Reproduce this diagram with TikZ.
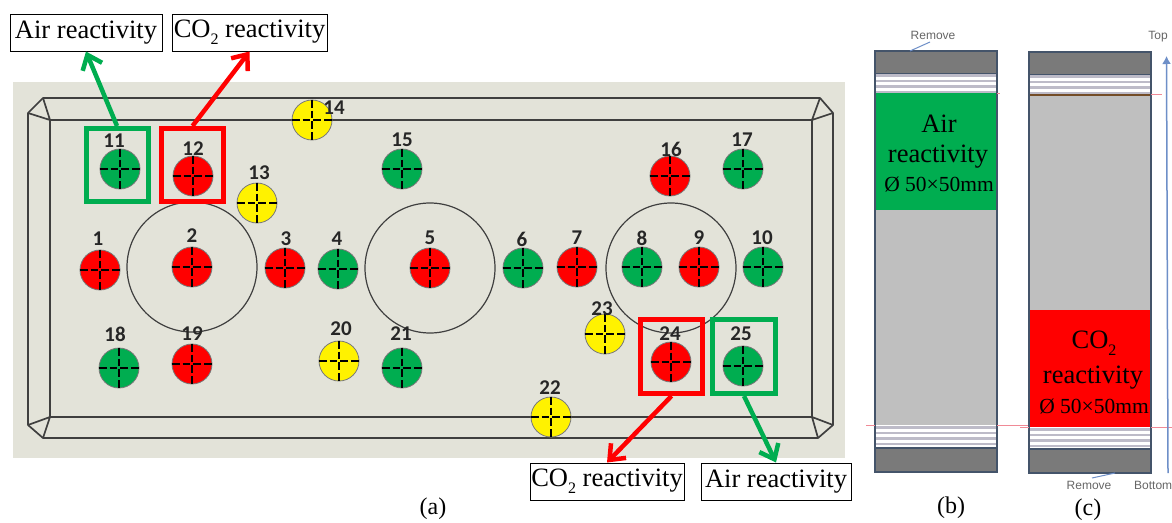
\documentclass[tikz,border=0pt]{standalone}
\usepackage{fontspec}
\setmainfont{Liberation Serif}
\newfontfamily\numfont{Carlito}
\newfontfamily\smallsans{Liberation Sans}
\usetikzlibrary{arrows.meta}
\definecolor{bgc}{HTML}{E3E3D9}
\definecolor{grn}{HTML}{00AD50}
\definecolor{linec}{HTML}{3F3F3F}
\definecolor{panelb}{HTML}{44546A}
\definecolor{darkc}{HTML}{7A7A7A}
\definecolor{grayc}{HTML}{BFBFBF}
\definecolor{stripec}{HTML}{BDBBC8}
\definecolor{bluec}{HTML}{6E8FC8}
\definecolor{pinkc}{HTML}{F08A96}
\definecolor{txtg}{HTML}{666666}
\newcommand{\subtwo}{\raisebox{-0.28em}{\fontsize{16}{16}\selectfont 2}}
\tikzset{
  hole/.style={circle,draw=linec!70,line width=.8pt,minimum size=40pt,inner sep=0pt},
  crossl/.style={black,line width=1.2pt,dash pattern=on 8pt off 3pt on 7.5pt off 3pt on 8pt off 3pt on 8pt},
  numl/.style={font=\numfont\bfseries\fontsize{21}{21}\selectfont,text=black!85,inner sep=0pt},
  tablel/.style={linec,line width=1.7pt,line join=round},
  bigc/.style={circle,draw=linec,line width=1.2pt,minimum size=130pt,inner sep=0pt},
  markbox/.style={draw,line width=5pt,fill=none,inner sep=0pt},
  lab/.style={draw=black,line width=1pt,fill=white,inner sep=0pt,font=\fontsize{26.5}{27}\selectfont,text=black},
  conn/.style={line width=4.5pt,-{Straight Barb[length=13pt,width=21pt,line width=4.5pt]}},
  captxt/.style={font=\fontsize{24}{24}\selectfont,inner sep=0pt},
  band/.style={draw=panelb,line width=1.4pt},
  ptext/.style={font=\fontsize{26.5}{27}\selectfont,inner sep=0pt,text=black},
  psmall/.style={font=\fontsize{21.5}{22}\selectfont,inner sep=0pt,text=black},
  tinyt/.style={font=\smallsans\fontsize{12}{12}\selectfont,text=txtg,inner sep=0pt},
}
\newcommand{\stripes}[2]{% x offset, top y
  \fill[white] (#1,#2) rectangle (#1+122,#2+19);
  \foreach \d in {1.5,7,12.5,18}{\draw[stripec,line width=2.4pt] (#1,#2+\d) -- (#1+122,#2+\d);}
}
\begin{document}
\begin{tikzpicture}[x=1pt,y=-1pt]
\useasboundingbox (0,0) rectangle (1172,522);
\fill[white] (0,0) rectangle (1172,522);
\fill[bgc] (13,82) rectangle (845,458);
% table
\draw[tablel] (43,98) -- (820,98) -- (833,113) -- (833,425) -- (818,438) -- (43,438) -- (28,425) -- (28,113) -- cycle;
\draw[tablel] (50,120) rectangle (812,417);
\draw[tablel] (43,98) -- (50,120) (28,113) -- (50,120);
\draw[tablel] (820,98) -- (812,120) (833,113) -- (812,120);
\draw[tablel] (818,438) -- (812,417) (833,425) -- (812,417);
\draw[tablel] (43,438) -- (50,417) (28,425) -- (50,417);
% large circles
\node[bigc] (c2) at (192,267) {};
\node[bigc] (c5) at (430,268) {};
\node[bigc] (c8) at (671,268) {};
% holes
\foreach \n/\x/\y/\c/\nx/\ny in {
 1/100/270/red/98/239, 2/192/267/red/192/236, 3/285/268/red/286/239, 4/338/269/grn/337/239,
 5/430/268/red/430/238, 6/523/268/grn/522/239, 7/577/267/red/577/238, 8/642/267/grn/642/238,
 9/699/267/red/699/238, 10/763/267/grn/762/238, 11/120/169/grn/114/141, 12/193/176/red/193/149,
 13/257/203/yellow/259/173, 14/312/120/yellow/334/108, 15/402/169/grn/402/140, 16/670/176/red/671/149,
 17/743/169/grn/742/140, 18/119/368/grn/115/334, 19/192/364/red/192/334, 20/339/361/yellow/341/329,
 21/402/368/grn/401/334, 22/551/417/yellow/550/388, 23/605/334/yellow/602/309, 24/671/362/red/670/334,
 25/743/366/grn/741/334}{
  \node[hole,fill=\c] (h\n) at (\x,\y) {};
  \draw[crossl] (h\n.west) -- (h\n.east);
  \draw[crossl] (h\n.north) -- (h\n.south);
  \node[numl] (n\n) at (\nx,\ny) {\n};
}
% marker boxes
\node[markbox,draw=grn,minimum width=62pt,minimum height=73pt] (mA) at (117,165) {};
\node[markbox,draw=red,minimum width=62pt,minimum height=73pt] (mB) at (192.5,165) {};
\node[markbox,draw=red,minimum width=62pt,minimum height=74pt] (mC) at (671.5,356.5) {};
\node[markbox,draw=grn,minimum width=63pt,minimum height=74pt] (mD) at (744,356.5) {};
% labels
\node[lab,minimum width=152pt,minimum height=37pt] (lA) at (86,32.5) {\raisebox{-.13em}{Air reactivity}};
\node[lab,minimum width=155pt,minimum height=37pt] (lB) at (249.5,32.5) {\raisebox{.15em}{CO\subtwo{} reactivity}};
\node[lab,minimum width=154pt,minimum height=37pt] (lC) at (607,481.5) {\raisebox{.15em}{CO\subtwo{} reactivity}};
\node[lab,minimum width=150pt,minimum height=37pt] (lD) at (776,481.5) {\raisebox{-.1em}{Air reactivity}};
% connectors
\draw[conn,grn] (mA.north) -- (lA.south);
\draw[conn,red] (mB.north) -- (lB.south);
\draw[conn,red] (mC.south) -- (lC.north);
\draw[conn,grn] (mD.south) -- (lD.north);
% panel b
\draw[band,fill=darkc] (875,51) rectangle (997,74);
\stripes{875}{74}
\fill[grayc] (875,210) rectangle (997,425);
\fill[grn] (875,93) rectangle (997,210);
\stripes{875}{426}
\draw[band] (875,74) -- (875,448) (997,74) -- (997,448);
\draw[band,fill=darkc] (875,448) rectangle (997,472);
\draw[pinkc,line width=1pt] (997,93.5) -- (1000,93.5);
\draw[pinkc,line width=1pt] (866,425.5) -- (875,425.5);
\draw[pinkc,line width=1pt] (997,425.5) -- (1029,425.5);
\node[tinyt] (remB) at (933,35) {Remove};
\draw[bluec,line width=1pt] (930,42) -- (910,51);
\node[ptext] (tb1) at (939,124) {Air};
\node[ptext] (tb2) at (938,157) {reactivity};
\node[psmall] (tb3) at (939,184) {Ø 50×50mm};
% panel c
\draw[band,fill=darkc] (1029,52) rectangle (1151,75);
\stripes{1029}{75}
\fill[grayc] (1029,96) rectangle (1151,310);
\draw[black!40!brown,line width=2.5pt] (1029,95) -- (1151,95);
\fill[red] (1030,310) rectangle (1151,427);
\stripes{1029}{428}
\draw[band] (1029,75) -- (1029,449) (1151,75) -- (1151,449);
\draw[band,fill=darkc] (1029,449) rectangle (1151,473);
\draw[pinkc,line width=1pt] (1151,94.5) -- (1162,94.5);
\draw[pinkc,line width=1pt] (1020,427) -- (1029,427);
\draw[pinkc,line width=1pt] (1151,427) -- (1172,427);
\node[ptext] (tc1) at (1094,343) {CO\subtwo};
\node[ptext] (tc2) at (1093,378) {reactivity};
\node[psmall] (tc3) at (1094,406) {Ø 50×50mm};
\node[tinyt] (remC) at (1089,485) {Remove};
\draw[bluec,line width=1pt] (1092,478) -- (1115,473);
\coordinate (axB) at (1168,473);
\coordinate (axT) at (1166.5,56);
\draw[bluec,line width=1.5pt,-{Latex[length=8pt,width=9pt]}] (axB) -- (axT);
\node[tinyt] (topl) at (1158,37) {Top};
\node[tinyt,anchor=west] (botl) at (1134,485) {Bottom};
% captions
\node[captxt] (capa) at (433,509) {(a)};
\node[captxt] (capb) at (951,508) {(b)};
\node[captxt] (capc) at (1088,510) {(c)};
\end{tikzpicture}
\end{document}
